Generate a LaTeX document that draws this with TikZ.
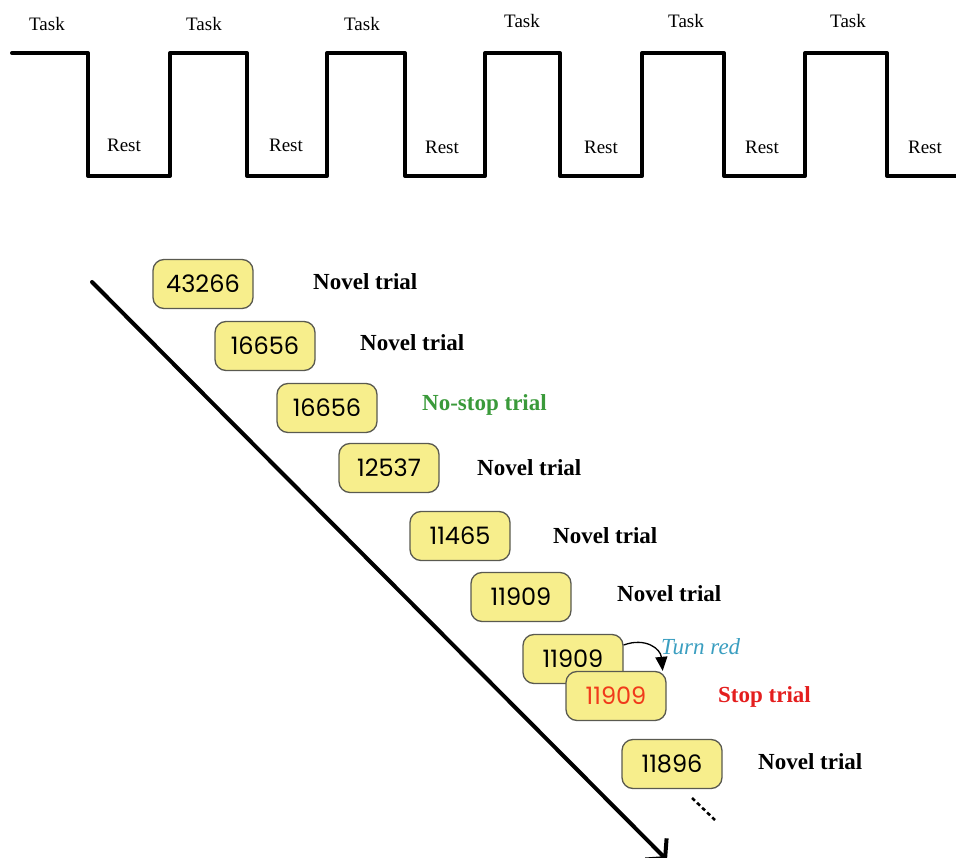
\documentclass[tikz,border=0pt]{standalone}
\usepackage{fontspec}
\setmainfont{Liberation Serif}
\newfontfamily\popfont{Poppins}
\usetikzlibrary{arrows.meta}
\definecolor{boxfill}{HTML}{F7EE8C}
\definecolor{boxline}{HTML}{5A5A50}
\definecolor{nsgreen}{HTML}{3A9A3A}
\definecolor{stopred}{HTML}{E41E1E}
\definecolor{numred}{HTML}{F03A1A}
\definecolor{turnblue}{HTML}{3A9EC0}
\begin{document}
\begin{tikzpicture}[x=1pt,y=-1pt,
  numbox/.style={draw=boxline,fill=boxfill,line width=1.3pt,rounded corners=11pt,
    minimum width=100pt,minimum height=49pt,inner sep=0pt,
    font=\popfont\fontsize{24}{24}\selectfont},
  triallabel/.style={anchor=west,inner sep=0pt,font=\bfseries\fontsize{23}{23}\selectfont},
  wavelabel/.style={inner sep=0pt,font=\fontsize{19}{19}\selectfont},
  wave/.style={line width=4pt,line join=round,line cap=round}]
\useasboundingbox (0,0) rectangle (956,858);
% square wave
\draw[wave] (12,53) -- (88,53) -- (88,176) -- (170,176) -- (170,53) -- (247,53) -- (247,176)
  -- (327,176) -- (327,53) -- (405,53) -- (405,176) -- (485,176) -- (485,53) -- (560,53)
  -- (560,176) -- (642,176) -- (642,53) -- (724,53) -- (724,176) -- (805,176) -- (805,53)
  -- (887,53) -- (887,176) -- (958,176);
\node[wavelabel] (t1) at (47,24) {Task};
\node[wavelabel] (t2) at (204,24) {Task};
\node[wavelabel] (t3) at (362,24) {Task};
\node[wavelabel] (t4) at (522,21) {Task};
\node[wavelabel] (t5) at (686,21) {Task};
\node[wavelabel] (t6) at (848,21) {Task};
\node[wavelabel] (r1) at (124,145) {Rest};
\node[wavelabel] (r2) at (286,145) {Rest};
\node[wavelabel] (r3) at (442,147) {Rest};
\node[wavelabel] (r4) at (601,147) {Rest};
\node[wavelabel] (r5) at (762,147) {Rest};
\node[wavelabel] (r6) at (925,147) {Rest};
% time arrow
\coordinate (as) at (92,282);
\coordinate (ae) at (667,860);
\draw[line width=4pt,line cap=round,-{Straight Barb[length=13pt,width=30pt,line width=4pt]}] (as) -- (ae);
% boxes
\node[numbox] (b1) at (203,284) {43266};
\node[numbox] (b2) at (265,346) {16656};
\node[numbox] (b3) at (327,408) {16656};
\node[numbox] (b4) at (389,468) {12537};
\node[numbox] (b5) at (460,536) {11465};
\node[numbox] (b6) at (521,597) {11909};
\node[numbox] (b7) at (573,659) {11909};
\node[numbox,text=numred] (b8) at (616,696) {11909};
\node[numbox] (b9) at (672,764) {11896};
% labels
\node[triallabel] (l1) at (313,282) {Novel trial};
\node[triallabel] (l2) at (360,343) {Novel trial};
\node[triallabel,text=nsgreen] (l3) at (422,405) {No-stop trial};
\node[triallabel] (l4) at (477,468) {Novel trial};
\node[triallabel] (l5) at (553,536) {Novel trial};
\node[triallabel] (l6) at (617,594) {Novel trial};
\node[triallabel,text=stopred] (l7) at (718,697) {Stop trial};
\node[triallabel] (l8) at (758,762) {Novel trial};
\node[anchor=west,inner sep=0pt,text=turnblue,font=\itshape\fontsize{23}{23}\selectfont] (tr) at (661,647) {Turn red};
% turn red arrow
\draw[line width=1.3pt,-{Triangle[length=14pt,width=12pt]}] ([yshift=14pt]b7.east)
  .. controls +(22,-8) and +(-2,-22) .. ([xshift=-4pt]b8.north east);
% continuation dots
\coordinate (d1) at (692,798);
\coordinate (d2) at (715,820);
\draw[line width=2.5pt,dash pattern=on 4pt off 3pt] (d1) -- (d2);
\end{tikzpicture}
\end{document}
